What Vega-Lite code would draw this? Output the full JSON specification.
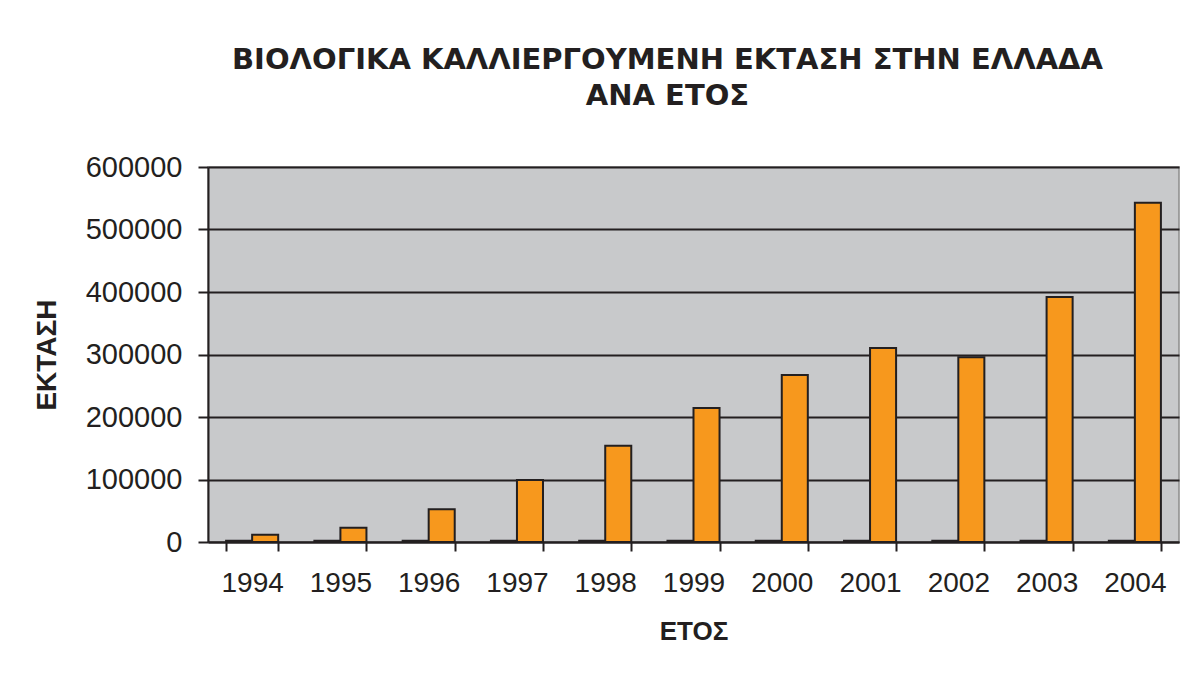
{
  "$schema": "https://vega.github.io/schema/vega-lite/v6.json",
  "width": 971,
  "height": 375,
  "autosize": {"type": "none"},
  "padding": {"left": 208, "top": 167, "right": 3, "bottom": 131},
  "background": "#ffffff",
  "title": {
    "text": ["ΒΙΟΛΟΓΙΚΑ ΚΑΛΛΙΕΡΓΟΥΜΕΝΗ ΕΚΤΑΣΗ ΣΤΗΝ ΕΛΛΑΔΑ", "ΑΝΑ ΕΤΟΣ"],
    "font": "DejaVu Sans",
    "fontWeight": "bold",
    "fontSize": 29,
    "lineHeight": 36,
    "color": "#231F20",
    "anchor": "middle",
    "dx": -26,
    "offset": 42
  },
  "data": {
    "values": [
      {"year": "1994", "series": "A", "value": 2000},
      {"year": "1994", "series": "B", "value": 11700},
      {"year": "1995", "series": "A", "value": 2000},
      {"year": "1995", "series": "B", "value": 22900},
      {"year": "1996", "series": "A", "value": 2000},
      {"year": "1996", "series": "B", "value": 52300},
      {"year": "1997", "series": "A", "value": 2000},
      {"year": "1997", "series": "B", "value": 99200},
      {"year": "1998", "series": "A", "value": 2000},
      {"year": "1998", "series": "B", "value": 154000},
      {"year": "1999", "series": "A", "value": 2000},
      {"year": "1999", "series": "B", "value": 214400},
      {"year": "2000", "series": "A", "value": 2000},
      {"year": "2000", "series": "B", "value": 267200},
      {"year": "2001", "series": "A", "value": 2000},
      {"year": "2001", "series": "B", "value": 310400},
      {"year": "2002", "series": "A", "value": 2000},
      {"year": "2002", "series": "B", "value": 295500},
      {"year": "2003", "series": "A", "value": 2000},
      {"year": "2003", "series": "B", "value": 392000},
      {"year": "2004", "series": "A", "value": 2000},
      {"year": "2004", "series": "B", "value": 542900}
    ]
  },
  "mark": {"type": "bar", "stroke": "#231F20", "strokeWidth": 2},
  "encoding": {
    "x": {
      "field": "year",
      "type": "nominal",
      "scale": {"paddingInner": 0.41, "paddingOuter": 0.205},
      "axis": {
        "title": "ΕΤΟΣ",
        "labelAngle": 0,
        "labelFont": "Liberation Sans",
        "labelFontSize": 28,
        "labelColor": "#231F20",
        "labelPadding": 18,
        "tickBand": "extent",
        "tickSize": 9,
        "tickWidth": 2,
        "tickColor": "#231F20",
        "domainColor": "#231F20",
        "domainWidth": 2,
        "titleFont": "Liberation Sans",
        "titleFontWeight": "bold",
        "titleFontSize": 26,
        "titleColor": "#231F20",
        "titlePadding": 21,
        "grid": false
      }
    },
    "xOffset": {"field": "series", "type": "nominal", "scale": {"paddingInner": 0, "paddingOuter": 0}},
    "y": {
      "field": "value",
      "type": "quantitative",
      "scale": {"domain": [0, 600000], "nice": false},
      "axis": {
        "title": "ΕΚΤΑΣΗ",
        "values": [0, 100000, 200000, 300000, 400000, 500000, 600000],
        "format": "d",
        "labelFont": "Liberation Sans",
        "labelFontSize": 29,
        "labelColor": "#231F20",
        "labelPadding": 16,
        "tickSize": 10,
        "tickWidth": 2,
        "tickColor": "#231F20",
        "domainColor": "#231F20",
        "domainWidth": 2,
        "grid": true,
        "gridColor": "#231F20",
        "gridWidth": 2,
        "gridOpacity": 1,
        "titleFont": "Liberation Sans",
        "titleFontWeight": "bold",
        "titleFontSize": 28,
        "titleColor": "#231F20",
        "titlePadding": 24
      }
    },
    "color": {
      "field": "series",
      "type": "nominal",
      "scale": {"domain": ["A", "B"], "range": ["#231F20", "#F7981D"]},
      "legend": null
    }
  },
  "config": {
    "view": {"fill": "#C8C9CB", "stroke": "#8C8C8C", "strokeWidth": 1.5}
  }
}
